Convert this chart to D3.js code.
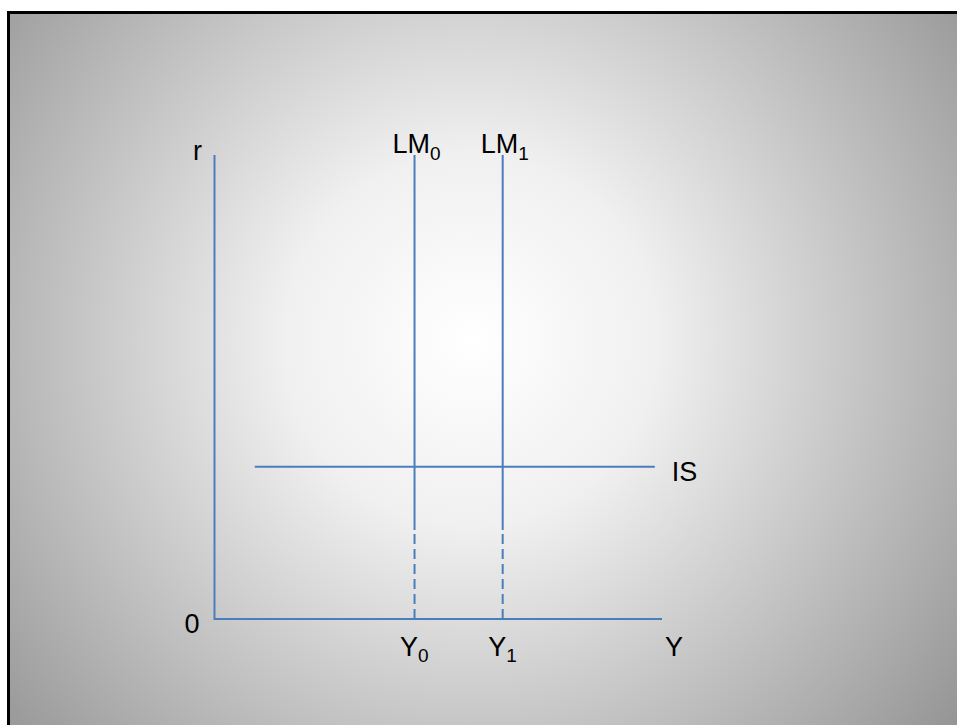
<!DOCTYPE html>
<html>
<head>
<meta charset="utf-8">
<script src="https://cdn.jsdelivr.net/npm/d3@7"></script>
<style>
  html, body { margin: 0; padding: 0; background: #fff; }
  text { font-family: "Liberation Sans", Arial, sans-serif; fill: #000; }
</style>
</head>
<body>
<svg id="chart" width="957" height="725"></svg>
<script>
// IS-LM diagram, values in abstract units (0..10 on both axes)
const lmNames = ["LM", "LM"];
const lmSubs = ["0", "1"];
const lmX = [4.47, 6.44];        // output level of each vertical LM curve
const lmSolidFrom = 1.92;        // LM solid above this r, dashed below
const isLevel = 3.28;            // r where the horizontal IS sits
const isRange = [0.9, 9.84];     // x extent of IS
const axisTop = 10;
const axisRight = 10;

const svg = d3.select("#chart");
const W = 957, H = 725;

const x = d3.scaleLinear().domain([0, 10]).range([214.5, 662]);
const y = d3.scaleLinear().domain([0, 10]).range([619, 155]);

const blue = "#4a7ebb";

// background gradient
const defs = svg.append("defs");
const grad = defs.append("radialGradient")
    .attr("id", "bg")
    .attr("gradientUnits", "userSpaceOnUse")
    .attr("cx", 470).attr("cy", 340).attr("r", 620);
grad.append("stop").attr("offset", 0).attr("stop-color", "#ffffff");
grad.append("stop").attr("offset", 0.3).attr("stop-color", "#f0f0f0");
grad.append("stop").attr("offset", 1).attr("stop-color", "#959595");

svg.append("rect").attr("width", W).attr("height", H).attr("fill", "#fff");
svg.append("rect")
    .attr("x", 8.5).attr("y", 12.5)
    .attr("width", W + 20).attr("height", H + 20)
    .attr("fill", "url(#bg)")
    .attr("stroke", "#000")
    .attr("stroke-width", 3);

const line = d3.line().x(d => x(d[0])).y(d => y(d[1]));

const g = svg.append("g");

// axes
g.append("path")
    .datum([[0, axisTop], [0, 0], [axisRight, 0]])
    .attr("d", line)
    .attr("fill", "none")
    .attr("stroke", blue)
    .attr("stroke-width", 2);

// IS curve
g.append("path")
    .datum([[isRange[0], isLevel], [isRange[1], isLevel]])
    .attr("d", line)
    .attr("fill", "none")
    .attr("stroke", blue)
    .attr("stroke-width", 2);

// LM curves: solid part and dashed drop line
lmX.forEach(v => {
    g.append("path")
        .datum([[v, axisTop], [v, lmSolidFrom]])
        .attr("d", line)
        .attr("fill", "none")
        .attr("stroke", blue)
        .attr("stroke-width", 2);
    g.append("path")
        .datum([[v, lmSolidFrom], [v, 0]])
        .attr("d", line)
        .attr("fill", "none")
        .attr("stroke", blue)
        .attr("stroke-width", 2)
        .attr("stroke-dasharray", "10,5")
        .attr("stroke-dashoffset", -4);
});

const fs = 27, sub = 19;

// labels with subscripts
function label(px, py, main, s, dy) {
    const t = g.append("text")
        .attr("x", px).attr("y", py)
        .style("font-size", fs + "px");
    t.append("tspan").text(main);
    if (s) {
        t.append("tspan")
            .attr("dy", dy)
            .style("font-size", sub + "px")
            .text(s);
    }
    return t;
}

lmX.forEach((v, i) => {
    label(x(v) - 22, y(axisTop) - 2, lmNames[i], lmSubs[i], 7);
    label(x(v) - 14.5, 656, "Y", lmSubs[i], 6);
});

label(x(0) - 21.5, 160, "r");
label(x(0) - 30, 633, "0");
label(x(axisRight) + 3, 656, "Y");
label(x(isRange[1]) + 17, 480.5, "IS");
</script>
</body>
</html>
